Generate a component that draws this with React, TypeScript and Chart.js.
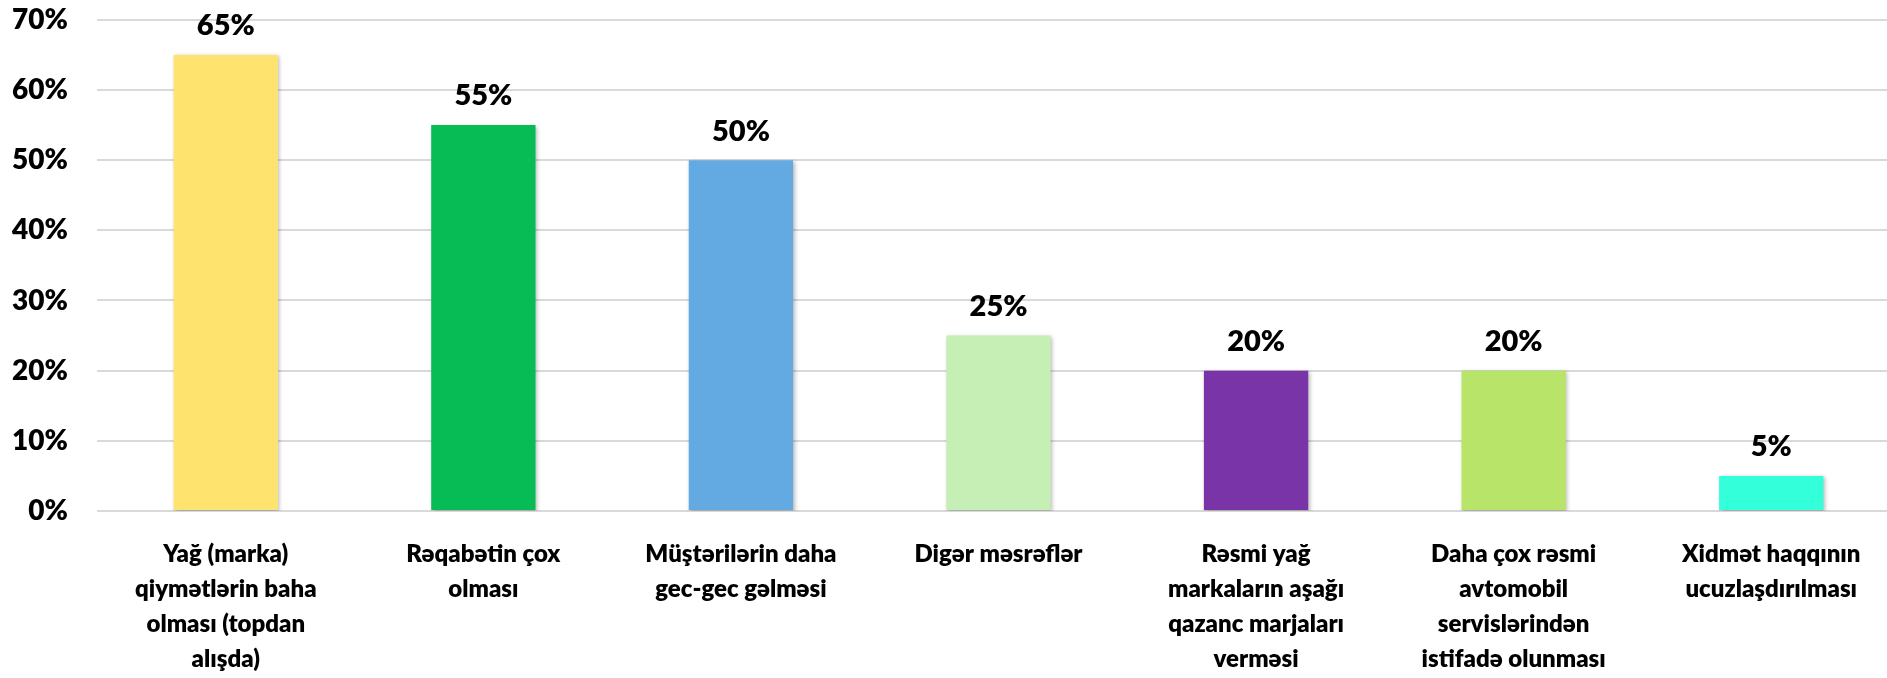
import React, { useEffect, useRef } from "react";
import { Chart, registerables } from "chart.js";

Chart.register(...registerables);

const categories: string[][] = [
  ["Yağ (marka)", "qiymətlərin baha", "olması (topdan", "alışda)"],
  ["Rəqabətin çox", "olması"],
  ["Müştərilərin daha", "gec-gec gəlməsi"],
  ["Digər məsrəflər"],
  ["Rəsmi yağ", "markaların aşağı", "qazanc marjaları", "verməsi"],
  ["Daha çox rəsmi", "avtomobil", "servislərindən", "istifadə olunması"],
  ["Xidmət haqqının", "ucuzlaşdırılması"],
];
const values: number[] = [65, 55, 50, 25, 20, 20, 5];
const barColors: string[] = [
  "#FFE36F",
  "#07BC55",
  "#63AAE3",
  "#C5EFB4",
  "#7934A8",
  "#B8E46A",
  "#33FFDA",
];
const yMin = 0;
const yMax = 70;
const yStep = 10;

const FONT = "Lato, 'Open Sans', sans-serif";

const shadowPlugin = {
  id: "barShadow",
  beforeDatasetDraw(chart: any) {
    const ctx = chart.ctx;
    ctx.save();
    ctx.shadowColor = "rgba(0,0,0,0.28)";
    ctx.shadowBlur = 4;
    ctx.shadowOffsetX = 1.5;
    ctx.shadowOffsetY = 1.5;
  },
  afterDatasetDraw(chart: any) {
    chart.ctx.restore();
  },
};

const labelPlugin = {
  id: "valueLabels",
  afterDatasetsDraw(chart: any) {
    const ctx = chart.ctx;
    const meta = chart.getDatasetMeta(0);
    ctx.save();
    ctx.font = `800 29px ${FONT}`;
    ctx.fillStyle = "#000";
    ctx.textAlign = "center";
    ctx.textBaseline = "middle";
    meta.data.forEach((bar: any, i: number) => {
      ctx.fillText(`${values[i]}%`, bar.x, bar.y - 29);
    });
    ctx.restore();
  },
};

export default function App() {
  const ref = useRef<HTMLCanvasElement>(null);
  useEffect(() => {
    if (!ref.current) return;
    const chart = new Chart(ref.current, {
      type: "bar",
      data: {
        labels: categories,
        datasets: [
          {
            data: values,
            backgroundColor: barColors,
            borderWidth: 0,
            categoryPercentage: 1,
            barPercentage: 0.405,
          },
        ],
      },
      options: {
        animation: false,
        responsive: false,
        layout: { padding: 0 },
        plugins: { legend: { display: false }, tooltip: { enabled: false } },
        scales: {
          x: {
            grid: { display: false, drawTicks: false },
            border: { display: false },
            ticks: {
              color: "#000",
              padding: 26,
              maxRotation: 0,
              autoSkip: false,
              font: { family: FONT, size: 24, weight: 800, lineHeight: "35px" },
            },
            afterFit(scale: any) {
              scale.height = 167;
            },
          },
          y: {
            min: yMin,
            max: yMax,
            grid: { color: "#D9D9D9", lineWidth: 2, drawTicks: false },
            border: { display: false },
            ticks: {
              stepSize: yStep,
              color: "#000",
              padding: 29,
              font: { family: FONT, size: 28, weight: 800 },
              callback: (v: any) => `${v}%`,
            },
            afterFit(scale: any) {
              scale.width = 97;
            },
          },
        },
      },
      plugins: [shadowPlugin, labelPlugin],
    });
    return () => chart.destroy();
  }, []);
  return (
    <div
      style={{
        position: "fixed",
        left: 0,
        top: 0,
        width: 1887,
        height: 678,
        overflow: "hidden",
        background: "#fff",
      }}
    >
      <canvas
        ref={ref}
        width={1900}
        height={704}
        style={{ display: "block", position: "absolute", left: 0, top: -26 }}
      />
    </div>
  );
}
